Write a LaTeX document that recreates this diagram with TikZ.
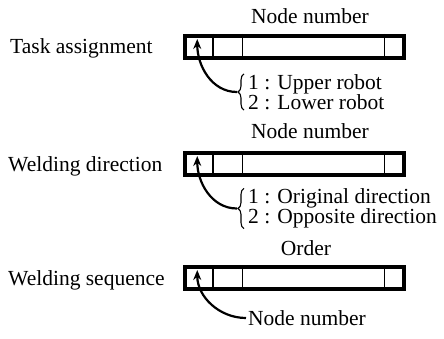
\documentclass[tikz,border=0pt]{standalone}
\usepackage{fontspec}
\setmainfont{Liberation Serif}
\usetikzlibrary{arrows.meta,decorations.pathreplacing,positioning}

\begin{document}
\begin{tikzpicture}[x=1pt,y=1pt,>={Stealth[length=10pt,width=8pt]}]
    \tikzstyle{record}=[draw,line width=4pt,minimum width=219pt,minimum height=22pt,inner sep=0pt]
    \tikzstyle{txt}=[inner sep=0pt,font=\fontsize{21.5}{20.5}\selectfont]
    \tikzstyle{options}=[txt,align=left,anchor=west]
    \tikzstyle{field}=[line width=1.5pt]
    \tikzstyle{pointer}=[->,line width=2.2pt]
    \tikzstyle{curly}=[decorate,decoration={brace,amplitude=6pt},line width=1.1pt]
    \useasboundingbox (0,0) rectangle (444,338);
    % task assignment
    \node[txt] (H_1) at (310,322) {Node number};
    \node[record] (R_1) at (294.5,291) {};
    \node[txt,anchor=base west] (L_1) at (10,284) {Task assignment};
    \draw[field] ([xshift=29.75pt]R_1.north west) -- ([xshift=29.75pt]R_1.south west);
    \draw[field] ([xshift=59.25pt]R_1.north west) -- ([xshift=59.25pt]R_1.south west);
    \draw[field] ([xshift=-21.75pt]R_1.north east) -- ([xshift=-21.75pt]R_1.south east);
    \coordinate (T_1) at ([xshift=14.25pt,yshift=-5pt]R_1.north west);
    \node[options] (O_1) at (248,246) {1 : Upper robot\\2 : Lower robot};
    \draw[curly] ([xshift=-4pt]O_1.south west) -- ([xshift=-4pt]O_1.north west);
    \coordinate (B_1) at ([xshift=-11pt]O_1.west);
    \draw[pointer] (B_1) to[out=180,in=-90] (T_1);
    % welding direction
    \node[txt] (H_2) at (310,207) {Node number};
    \node[record] (R_2) at (294.5,174) {};
    \node[txt,anchor=base west] (L_2) at (8,167) {Welding direction};
    \draw[field] ([xshift=29.75pt]R_2.north west) -- ([xshift=29.75pt]R_2.south west);
    \draw[field] ([xshift=59.25pt]R_2.north west) -- ([xshift=59.25pt]R_2.south west);
    \draw[field] ([xshift=-21.75pt]R_2.north east) -- ([xshift=-21.75pt]R_2.south east);
    \coordinate (T_2) at ([xshift=14.25pt,yshift=-5pt]R_2.north west);
    \node[options] (O_2) at (248,129.5) {1 : Original direction\\2 : Opposite direction};
    \draw[curly] ([xshift=-4pt]O_2.south west) -- ([xshift=-4pt]O_2.north west);
    \coordinate (B_2) at ([xshift=-11pt]O_2.west);
    \draw[pointer] (B_2) to[out=180,in=-90] (T_2);
    % welding sequence
    \node[txt] (H_3) at (306,90) {Order};
    \node[record] (R_3) at (294.5,60) {};
    \node[txt,anchor=base west] (L_3) at (8,53) {Welding sequence};
    \draw[field] ([xshift=29.75pt]R_3.north west) -- ([xshift=29.75pt]R_3.south west);
    \draw[field] ([xshift=59.25pt]R_3.north west) -- ([xshift=59.25pt]R_3.south west);
    \draw[field] ([xshift=-21.75pt]R_3.north east) -- ([xshift=-21.75pt]R_3.south east);
    \coordinate (T_3) at ([xshift=14.25pt,yshift=-5pt]R_3.north west);
    \node[txt,anchor=west] (N_3) at (248,20) {Node number};
    \draw[pointer] ([xshift=-2pt]N_3.west) to[out=180,in=-90] (T_3);
\end{tikzpicture}
\end{document}
